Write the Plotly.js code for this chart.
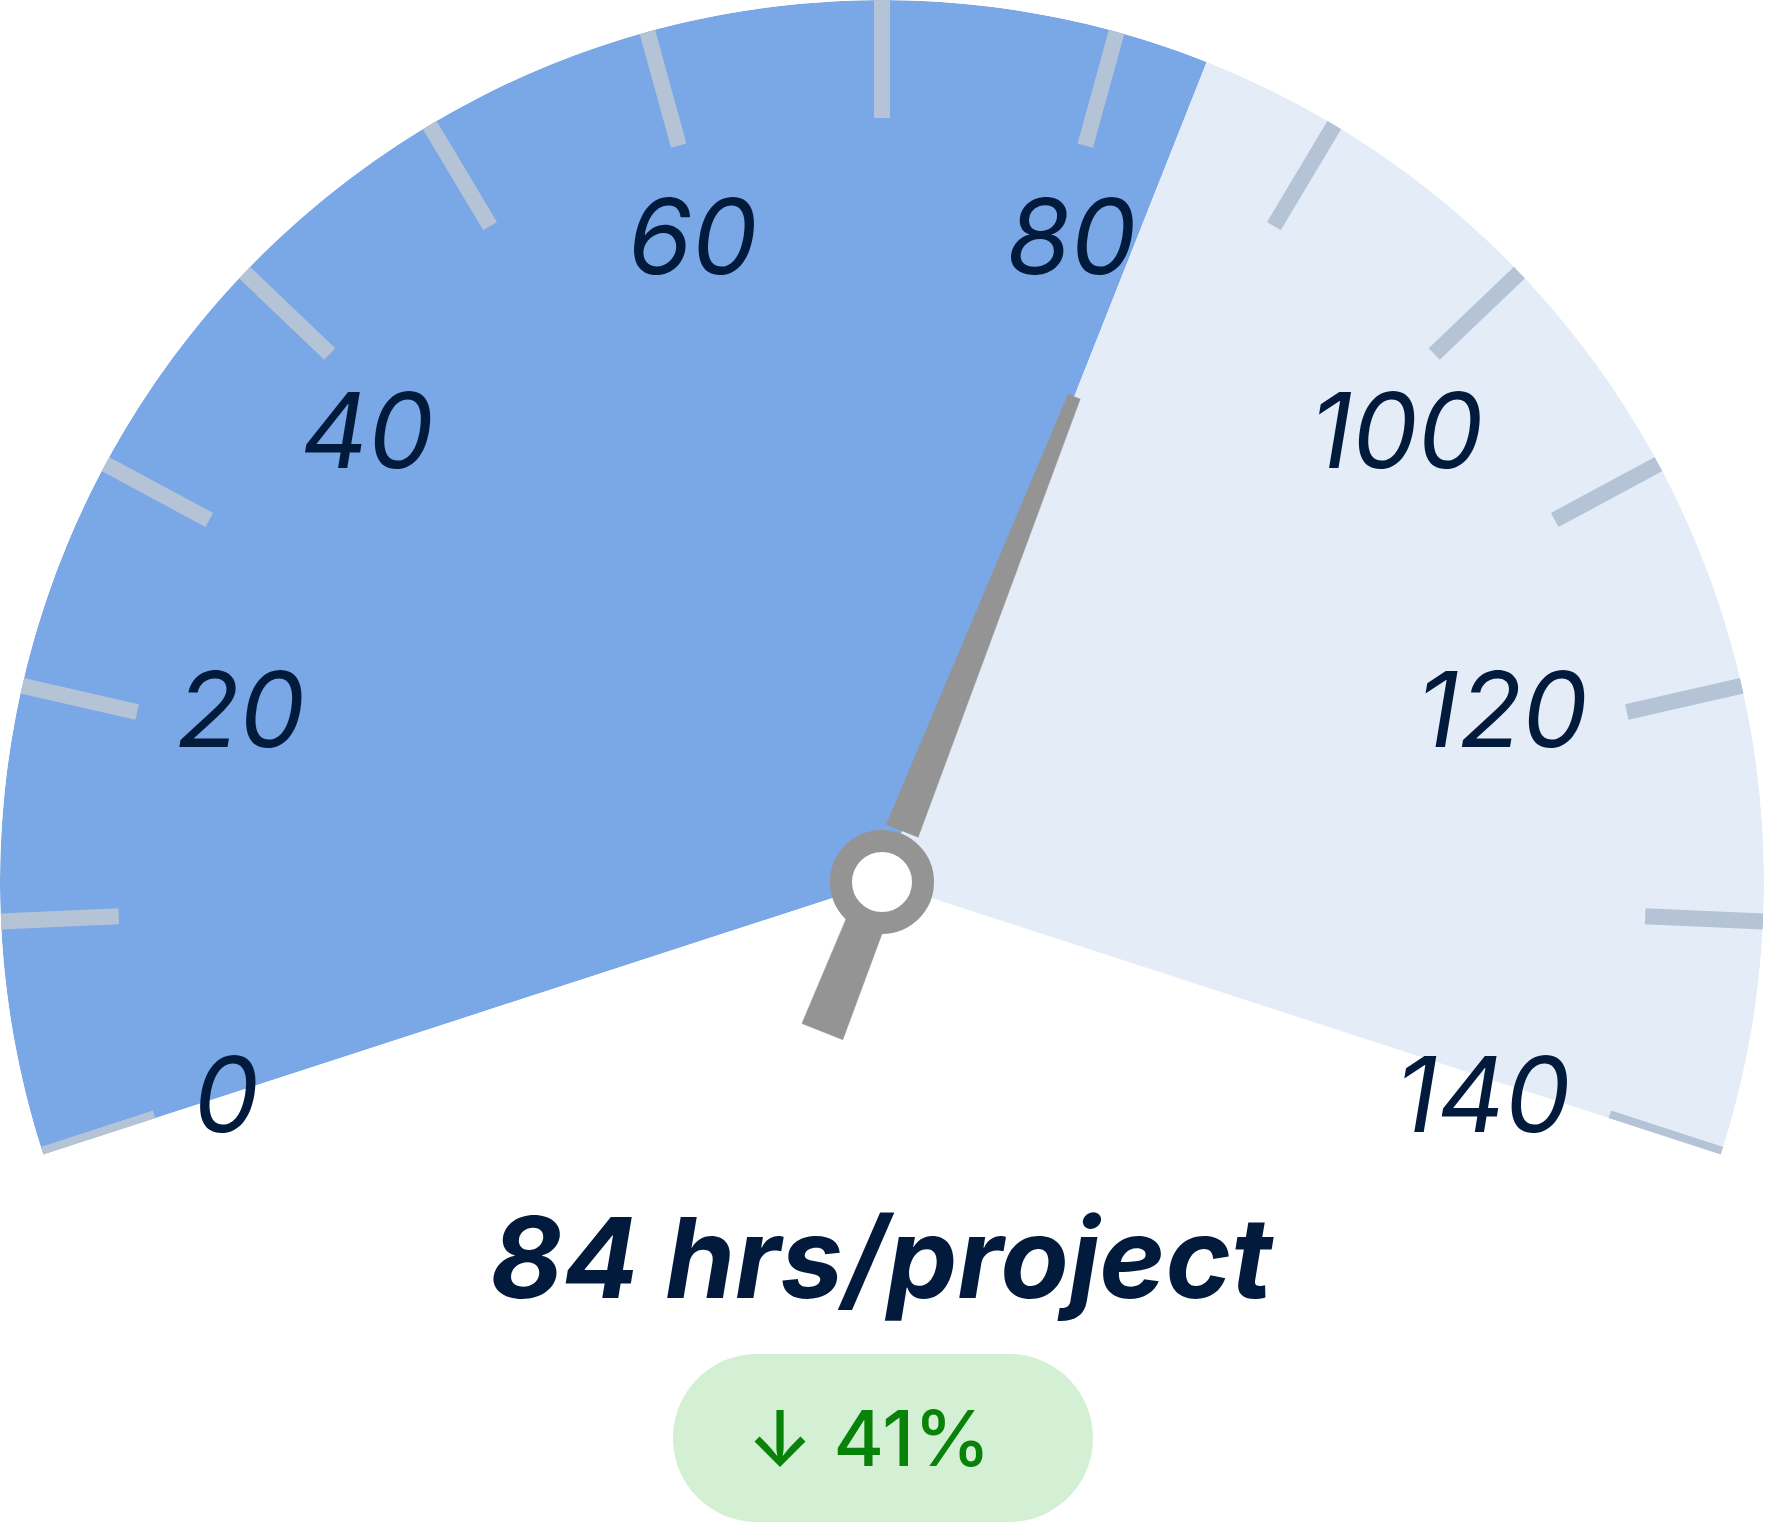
<!DOCTYPE html>
<html>
<head>
<meta charset="utf-8">
<script src="https://cdn.plot.ly/plotly-3.0.1.min.js"></script>
<style>
  html, body { margin: 0; padding: 0; background: #fff; }
  #gauge { width: 1768px; height: 1524px; }
</style>
</head>
<body>
<div id="gauge"></div>
<script>
// gauge data
const gaugeMin = 0;
const gaugeMax = 140;
const currentValue = 84;
const unitLabel = "hrs/project";
const changeText = "↓ 41%";
const tickValues = [0, 10, 20, 30, 40, 50, 60, 70, 80, 90, 100, 110, 120, 130, 140];
const labelValues = [0, 20, 40, 60, 80, 100, 120, 140];
const labelText = ["0", "20", "40", "60", "80", "100", "120", "140"];

const W = 1768, H = 1524;
const R = 882;            // gauge radius in px
const CX = 882, CY = 881; // hub position in px (from top-left)
const SPAN = 216;         // degrees covered by the dial
const START = 198;        // screen angle of the min end
const navy = "#021a3c";
const needleGrey = "#949494";
const font = "Inter, Roboto, sans-serif";

// value -> angular position (degrees, measured clockwise from the 0 end)
const deg = v => (v - gaugeMin) * SPAN / (gaugeMax - gaugeMin);
const screenAngle = v => (START - deg(v)) * Math.PI / 180;

// tick marks: short radial strokes from the rim inward
const tickR = [], tickTheta = [];
tickValues.forEach(v => {
  tickR.push(1, 1 - 118 / R, null);
  tickTheta.push(deg(v), deg(v), null);
});

// label alignment depends on where it sits on the dial
function labelPosition(v) {
  const a = screenAngle(v);
  const ux = Math.cos(a), uy = Math.sin(a);
  const hor = ux < -0.8 ? "right" : ux > 0.8 ? "left" : "center";
  const ver = uy > 0.4 ? "bottom" : uy < -0.4 ? "top" : "middle";
  return ver + " " + hor;
}
const labelRadius = v => (labelPosition(v).startsWith("bottom") ? 712 : 724) / R;

// needle outline, in px along/across the needle direction
function needleWidth(a) { return 44 - 31 * (a + 162) / 684; }
const phi = screenAngle(currentValue);
const upperPts = [
  [55, -needleWidth(55) / 2], [522, -6.5], [522, 6.5], [55, needleWidth(55) / 2], [55, -needleWidth(55) / 2]
];
const tailPts = [
  [-20, -needleWidth(-20) / 2], [-162, -22], [-162, 22], [-20, needleWidth(-20) / 2], [-20, -needleWidth(-20) / 2]
];
const upper = {
  r: upperPts.map(p => Math.hypot(p[0], p[1]) / R),
  theta: upperPts.map(p => deg(currentValue) + Math.atan2(p[1], p[0]) * 180 / Math.PI)
};
// the tail falls in the open bottom of the dial, so it is drawn on a px cartesian overlay
const tail = {
  x: tailPts.map(p => p[0] * Math.cos(phi) - p[1] * Math.sin(phi)),
  y: tailPts.map(p => p[0] * Math.sin(phi) + p[1] * Math.cos(phi))
};

const traces = [
  {
    type: "scatter",
    x: tail.x, y: tail.y,
    mode: "lines",
    fill: "toself", fillcolor: needleGrey,
    line: { color: needleGrey, width: 0.5 },
    hoverinfo: "skip"
  },
  {
    type: "barpolar",
    r: [1, 1],
    base: [0, 0],
    theta: [deg((gaugeMin + currentValue) / 2), deg((currentValue + gaugeMax) / 2)],
    width: [deg(currentValue) - deg(gaugeMin), deg(gaugeMax) - deg(currentValue)],
    marker: { color: ["#7aa7e6", "#e4ecf7"], line: { width: 0 } },
    hoverinfo: "skip"
  },
  {
    type: "scatterpolar",
    mode: "lines",
    r: tickR, theta: tickTheta,
    line: { color: "#b4c3d6", width: 16 },
    connectgaps: false,
    cliponaxis: false,
    hoverinfo: "skip"
  },
  {
    type: "scatterpolar",
    mode: "text",
    r: labelValues.map(labelRadius),
    theta: labelValues.map(deg),
    text: labelText,
    textposition: labelValues.map(labelPosition),
    textfont: { family: font, size: 104, color: navy, style: "italic" },
    cliponaxis: false,
    hoverinfo: "skip"
  },
  {
    type: "scatterpolar",
    mode: "lines",
    r: upper.r, theta: upper.theta,
    fill: "toself", fillcolor: needleGrey,
    line: { color: needleGrey, width: 0.5 },
    cliponaxis: false,
    hoverinfo: "skip"
  },
  {
    type: "scatterpolar",
    mode: "markers",
    r: [0], theta: [0],
    marker: { size: 82, color: "#ffffff", line: { color: needleGrey, width: 22 } },
    cliponaxis: false,
    hoverinfo: "skip"
  }
];

// pill behind the change figure (pixel path around an anchor)
const hw = 126, rr = 84, k = 0.5523 * rr;
const pillPath =
  `M ${-hw},${-rr} L ${hw},${-rr} ` +
  `C ${hw + k},${-rr} ${hw + rr},${-k} ${hw + rr},0 ` +
  `C ${hw + rr},${k} ${hw + k},${rr} ${hw},${rr} ` +
  `L ${-hw},${rr} ` +
  `C ${-hw - k},${rr} ${-hw - rr},${k} ${-hw - rr},0 ` +
  `C ${-hw - rr},${-k} ${-hw - k},${-rr} ${-hw},${-rr} Z`;

const hiddenAxis = { visible: false, showgrid: false, zeroline: false, fixedrange: true };

const layout = {
  width: W, height: H,
  margin: { l: 0, r: 0, t: 0, b: 0 },
  paper_bgcolor: "#ffffff",
  plot_bgcolor: "rgba(0,0,0,0)",
  showlegend: false,
  xaxis: Object.assign({ range: [-CX, W - CX], domain: [0, 1] }, hiddenAxis),
  yaxis: Object.assign({ range: [-(H - CY), CY], domain: [0, 1] }, hiddenAxis),
  polar: {
    domain: { x: [0, 2 * R / W], y: [1 - R * (1 + Math.sin(18 * Math.PI / 180)) / H, 1] },
    sector: [-18, 198],
    hole: 0,
    bgcolor: "rgba(0,0,0,0)",
    radialaxis: { visible: false, range: [0, 1] },
    angularaxis: {
      rotation: START,
      direction: "clockwise",
      showgrid: false,
      showline: false,
      showticklabels: false,
      ticks: ""
    }
  },
  shapes: [{
    type: "path",
    xref: "paper", yref: "paper",
    xsizemode: "pixel", ysizemode: "pixel",
    xanchor: 883 / W, yanchor: (H - 1438) / H,
    path: pillPath,
    fillcolor: "#d3efd4",
    line: { width: 0 },
    layer: "below"
  }],
  annotations: [
    {
      xref: "paper", yref: "paper",
      x: CX / W, y: (H - 1257) / H,
      xanchor: "center", yanchor: "middle",
      showarrow: false,
      text: `${currentValue} ${unitLabel}`,
      font: { family: font, size: 112, color: navy, weight: "bold", style: "italic" }
    },
    {
      xref: "paper", yref: "paper",
      x: 869 / W, y: (H - 1438) / H,
      xanchor: "center", yanchor: "middle",
      showarrow: false,
      text: changeText,
      font: { family: font, size: 77, color: "#088208", weight: 500 }
    }
  ]
};

Plotly.newPlot("gauge", traces, layout, { staticPlot: true, displayModeBar: false });
</script>
</body>
</html>
